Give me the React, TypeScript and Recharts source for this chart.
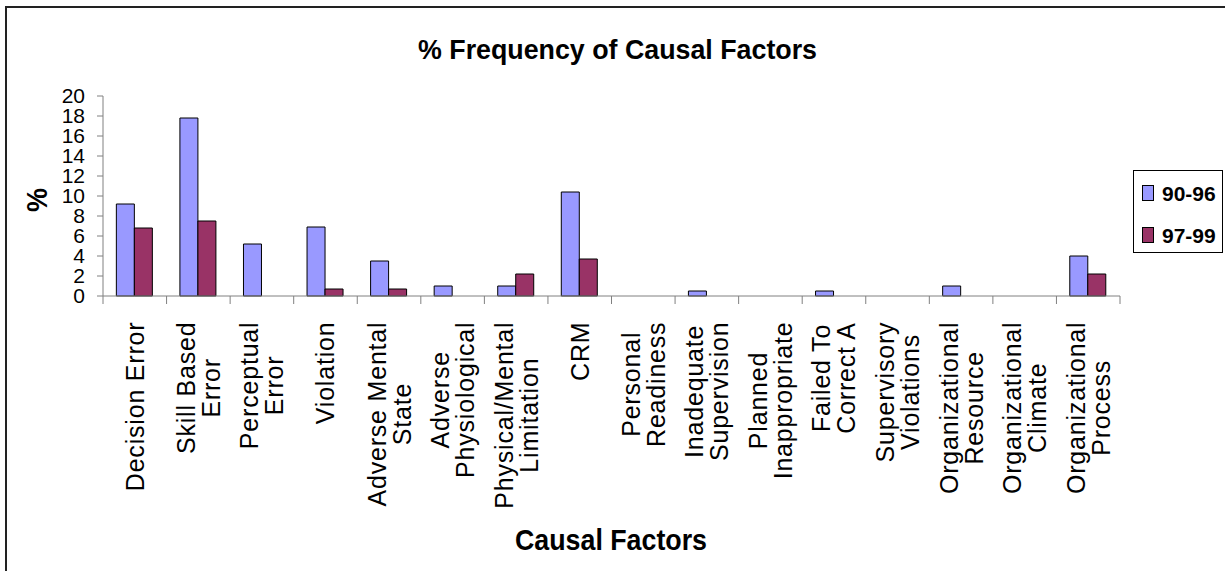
import { BarChart, Bar, XAxis, YAxis, Legend } from "recharts";

// causal factor categories (line breaks as in the original axis labels)
const categories = [
  "Decision Error",
  "Skill Based\nError",
  "Perceptual\nError",
  "Violation",
  "Adverse Mental\nState",
  "Adverse\nPhysiological",
  "Physical/Mental\nLimitation",
  "CRM",
  "Personal\nReadiness",
  "Inadequate\nSupervision",
  "Planned\nInappropriate",
  "Failed To\nCorrect A",
  "Supervisory\nViolations",
  "Organizational\nResource",
  "Organizational\nClimate",
  "Organizational\nProcess",
];

const freq9096 = [9.2, 17.8, 5.2, 6.9, 3.5, 1.0, 1.0, 10.4, 0, 0.5, 0, 0.5, 0, 1.0, 0, 4.0];
const freq9799 = [6.8, 7.5, 0, 0.7, 0.7, 0, 2.2, 3.7, 0, 0, 0, 0, 0, 0, 0, 2.2];

const seriesNames = ["90-96", "97-99"];
const seriesColors = ["#9999FF", "#993366"];
const yTicks = [0, 2, 4, 6, 8, 10, 12, 14, 16, 18, 20];

const W = 1225;
const H = 571;
const PLOT_LEFT = 103;
const PLOT_RIGHT = 1120;
const PLOT_TOP = 96;
const AXIS_Y = 296;
const BAND = (PLOT_RIGHT - PLOT_LEFT) / categories.length;
const FONT = "'Liberation Sans', Arial, sans-serif";
const TICK_FONT = 25;
const TICK_SPACING = 0.8;
const LINE_H = 25;

const data = categories.map((name, i) => ({
  name,
  a: freq9096[i],
  b: freq9799[i],
}));

let ctx: CanvasRenderingContext2D | null = null;
const measure = (t: string) => {
  if (!ctx) ctx = document.createElement("canvas").getContext("2d");
  if (!ctx) return t.length * 12;
  ctx.font = `${TICK_FONT}px ${FONT}`;
  return ctx.measureText(t).width + TICK_SPACING * (t.length - 1);
};

const CategoryTick = (props: any) => {
  const { x, payload, index } = props;
  const lines = String(payload.value).split("\n");
  const w = Math.max(...lines.map(measure));
  const cy = AXIS_Y + 26 + w / 2;
  const left = x - BAND / 2;
  const right = x + BAND / 2;
  return (
    <g>
      <line x1={left} y1={AXIS_Y} x2={left} y2={AXIS_Y + 8} stroke="#808080" />
      {index === categories.length - 1 && (
        <line x1={right} y1={AXIS_Y} x2={right} y2={AXIS_Y + 8} stroke="#808080" />
      )}
      {lines.map((t, i) => {
        const lx = x + (i - (lines.length - 1) / 2) * LINE_H;
        return (
          <text
            key={i}
            x={lx}
            y={cy}
            dy="0.36em"
            transform={`rotate(-90 ${lx} ${cy})`}
            textAnchor="middle"
            fontFamily={FONT}
            fontSize={TICK_FONT}
            style={{ letterSpacing: `${TICK_SPACING}px` }}
            fill="#000"
          >
            {t}
          </text>
        );
      })}
    </g>
  );
};

const LegendBox = () => (
  <svg width={90} height={83} style={{ display: "block" }}>
    <rect x={0.5} y={0.5} width={89} height={82} fill="#fff" stroke="#000" />
    {seriesNames.map((s, i) => {
      const cy = 23 + i * 42;
      return (
        <g key={s}>
          <rect x={9.5} y={cy - 7.5} width={11} height={15} fill={seriesColors[i]} stroke="#000" />
          <text x={29} y={cy} dy="0.36em" fontFamily={FONT} fontWeight="bold" fontSize={21}>
            {s}
          </text>
        </g>
      );
    })}
  </svg>
);

export default function App() {
  return (
    <div style={{ position: "absolute", left: 0, top: 0, width: W, height: H, background: "#fff" }}>
      <div
        style={{
          position: "absolute",
          left: 5,
          top: 6,
          width: W - 5,
          height: H - 6,
          borderTop: "2px solid #222",
          borderLeft: "2px solid #222",
        }}
      />
      <div style={{ position: "absolute", left: 0, top: 0 }}>
        <BarChart
          width={W}
          height={H}
          data={data}
          margin={{ top: PLOT_TOP, right: W - PLOT_RIGHT - 90, bottom: H - AXIS_Y - 200, left: 0 }}
          barCategoryGap="21%"
          barGap={0}
        >
          <XAxis
            dataKey="name"
            interval={0}
            height={200}
            tickLine={false}
            axisLine={{ stroke: "#808080" }}
            tick={<CategoryTick />}
          />
          <YAxis
            width={PLOT_LEFT}
            domain={[0, 20]}
            ticks={yTicks}
            interval={0}
            tickSize={6}
            tickMargin={12}
            axisLine={{ stroke: "#808080" }}
            tickLine={{ stroke: "#808080" }}
            tick={{ fill: "#000", fontSize: 21, fontFamily: FONT }}
          />
          <Legend
            layout="vertical"
            align="right"
            verticalAlign="middle"
            width={90}
            content={<LegendBox />}
            wrapperStyle={{ left: 1133, top: 170, width: 90, height: 83 }}
          />
          <Bar dataKey="a" name={seriesNames[0]} fill={seriesColors[0]} stroke="#000" strokeWidth={1} isAnimationActive={false} />
          <Bar dataKey="b" name={seriesNames[1]} fill={seriesColors[1]} stroke="#000" strokeWidth={1} isAnimationActive={false} />
        </BarChart>
      </div>
      <svg width={W} height={H} style={{ position: "absolute", left: 0, top: 0, pointerEvents: "none" }}>
        <text
          x={617.5}
          y={59}
          textAnchor="middle"
          fontFamily={FONT}
          fontWeight="bold"
          fontSize={28}
          textLength={399}
          lengthAdjust="spacingAndGlyphs"
        >
          % Frequency of Causal Factors
        </text>
        <text
          x={36}
          y={200}
          dy="0.36em"
          transform="rotate(-90 36 200)"
          textAnchor="middle"
          fontFamily={FONT}
          fontWeight="bold"
          fontSize={30}
          textLength={24}
          lengthAdjust="spacingAndGlyphs"
        >
          %
        </text>
        <text
          x={611}
          y={550}
          textAnchor="middle"
          fontFamily={FONT}
          fontWeight="bold"
          fontSize={30}
          textLength={192}
          lengthAdjust="spacingAndGlyphs"
        >
          Causal Factors
        </text>
      </svg>
    </div>
  );
}
